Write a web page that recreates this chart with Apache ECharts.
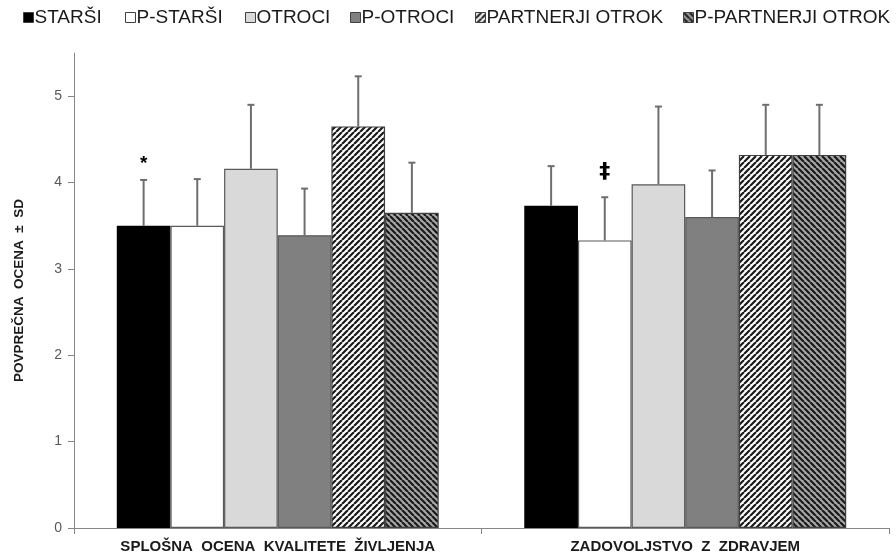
<!DOCTYPE html>
<html>
<head>
<meta charset="utf-8">
<script src="https://cdn.jsdelivr.net/npm/echarts@6/dist/echarts.min.js"></script>
<style>html,body{margin:0;padding:0;background:#fff;}#c{width:896px;height:555px;}</style>
</head>
<body>
<div id="c"></div>
<script>
const categories = ['SPLOŠNA OCENA KVALITETE ŽIVLJENJA', 'ZADOVOLJSTVO Z ZDRAVJEM'];
const seriesNames = ['STARŠI', 'P-STARŠI', 'OTROCI', 'P-OTROCI', 'PARTNERJI OTROK', 'P-PARTNERJI OTROK'];
const meanStarsi = [3.50, 3.73];
const meanPStarsi = [3.50, 3.33];
const meanOtroci = [4.16, 3.98];
const meanPOtroci = [3.39, 3.60];
const meanPartnerji = [4.65, 4.32];
const meanPPartnerji = [3.65, 4.32];
const sdStarsi = [0.53, 0.46];
const sdPStarsi = [0.54, 0.50];
const sdOtroci = [0.74, 0.90];
const sdPOtroci = [0.54, 0.54];
const sdPartnerji = [0.58, 0.58];
const sdPPartnerji = [0.58, 0.58];
const markStarsi = ['*', ''];
const markPStarsi = ['', '‡'];
const markNone = ['', ''];
const yTicks = [0, 1, 2, 3, 4, 5];

const means = [meanStarsi, meanPStarsi, meanOtroci, meanPOtroci, meanPartnerji, meanPPartnerji];
const sds = [sdStarsi, sdPStarsi, sdOtroci, sdPOtroci, sdPartnerji, sdPPartnerji];
const marks = [markStarsi, markPStarsi, markNone, markNone, markNone, markNone];

function hatch(bg, fg, up) {
  const s = 6;
  const cv = document.createElement('canvas');
  cv.width = s; cv.height = s;
  const ctx = cv.getContext('2d');
  ctx.fillStyle = bg; ctx.fillRect(0, 0, s, s);
  ctx.strokeStyle = fg; ctx.lineWidth = 2.2;
  ctx.beginPath();
  for (let k = -1; k <= 1; k++) {
    if (up) { ctx.moveTo(k * s, s); ctx.lineTo(k * s + s, 0); }
    else { ctx.moveTo(k * s, 0); ctx.lineTo(k * s + s, s); }
  }
  ctx.stroke();
  return cv;
}

const fills = [
  '#000000', '#ffffff', '#d9d9d9', '#808080',
  { image: hatch('#ffffff', '#1a1a1a', true), repeat: 'repeat' },
  { image: hatch('#a6a6a6', '#1a1a1a', false), repeat: 'repeat' }
];
const borders = ['#000000', '#595959', '#595959', '#595959', '#404040', '#404040'];
const GAP = 0.21;
const N = 6;

const series = [];
seriesNames.forEach((name, i) => {
  series.push({
    name: name,
    type: 'bar',
    data: means[i],
    barGap: '0%',
    barCategoryGap: (GAP * 100) + '%',
    itemStyle: { color: fills[i], borderColor: borders[i], borderWidth: 1.2 },
    emphasis: { disabled: true },
    z: 2
  });
});
seriesNames.forEach((name, i) => {
  series.push({
    name: 'err' + i,
    type: 'custom',
    z: 3,
    data: categories.map((c, k) => [k, means[i][k], sds[i][k]]),
    renderItem: function (params, api) {
      const c = api.value(0), m = api.value(1), sd = api.value(2);
      const mk = marks[i][c];
      const band = api.size([1, 0])[0];
      const bw = band * (1 - GAP) / N;
      const x = api.coord([c, 0])[0] + (i - (N - 1) / 2) * bw;
      const y0 = api.coord([c, m])[1];
      const y1 = api.coord([c, m + sd])[1];
      const st = { stroke: '#6e6e6e', lineWidth: 2 };
      const children = [
        { type: 'line', shape: { x1: x, y1: y0, x2: x, y2: y1 }, style: st },
        { type: 'line', shape: { x1: x - 3.5, y1: y1, x2: x + 3.5, y2: y1 }, style: st }
      ];
      if (mk) {
        const big = mk === '‡';
        children.push({
          type: 'text',
          x: x, y: y1 - (big ? 25 : 16),
          style: { text: mk, fill: '#000', font: big ? 'bold 22px "DejaVu Sans"' : 'bold 19px "Liberation Sans"', align: 'center', verticalAlign: 'middle' }
        });
      }
      return { type: 'group', children: children };
    }
  });
});

const iconX = [23, 125, 245, 350, 475, 683];
const legends = seriesNames.map((n, i) => ({
  data: [n],
  left: iconX[i],
  top: 8,
  icon: 'rect',
  itemWidth: 10,
  itemHeight: 10,
  padding: 0,
  selectedMode: false,
  itemStyle: { borderColor: '#404040', borderWidth: 1 },
  textStyle: { fontFamily: 'Liberation Sans', fontSize: 19, color: '#1a1a1a', padding: [0, 0, 0, -4] }
}));

const chart = echarts.init(document.getElementById('c'), null, { renderer: 'canvas' });
chart.setOption({
  animation: false,
  backgroundColor: '#ffffff',
  legend: legends,
  grid: { left: 74, right: 7, top: 53, bottom: 27, containLabel: false },
  xAxis: {
    type: 'category',
    data: categories,
    axisLine: { lineStyle: { color: '#868686', width: 1 } },
    axisTick: { show: true, length: 6, interval: 0, lineStyle: { color: '#868686' } },
    axisLabel: { interval: 0, margin: 11, fontFamily: 'Liberation Sans', fontSize: 15, fontWeight: 'bold', color: '#1a1a1a',
      formatter: v => v.split(' ').join('  ') }
  },
  yAxis: {
    type: 'value',
    min: 0, max: 5.5, interval: 1,
    name: 'POVPREČNA  OCENA  ±  SD',
    nameLocation: 'middle',
    nameGap: 48,
    nameTextStyle: { fontFamily: 'Liberation Sans', fontSize: 13.5, fontWeight: 'bold', color: '#1a1a1a' },
    splitLine: { show: false },
    axisLine: { show: true, lineStyle: { color: '#868686', width: 1 } },
    axisTick: { show: true, length: 6, customValues: yTicks, lineStyle: { color: '#868686' } },
    axisLabel: { customValues: yTicks, margin: 12, fontFamily: 'Liberation Sans', fontSize: 14, color: '#595959' }
  },
  series: series
});
</script>
</body>
</html>
